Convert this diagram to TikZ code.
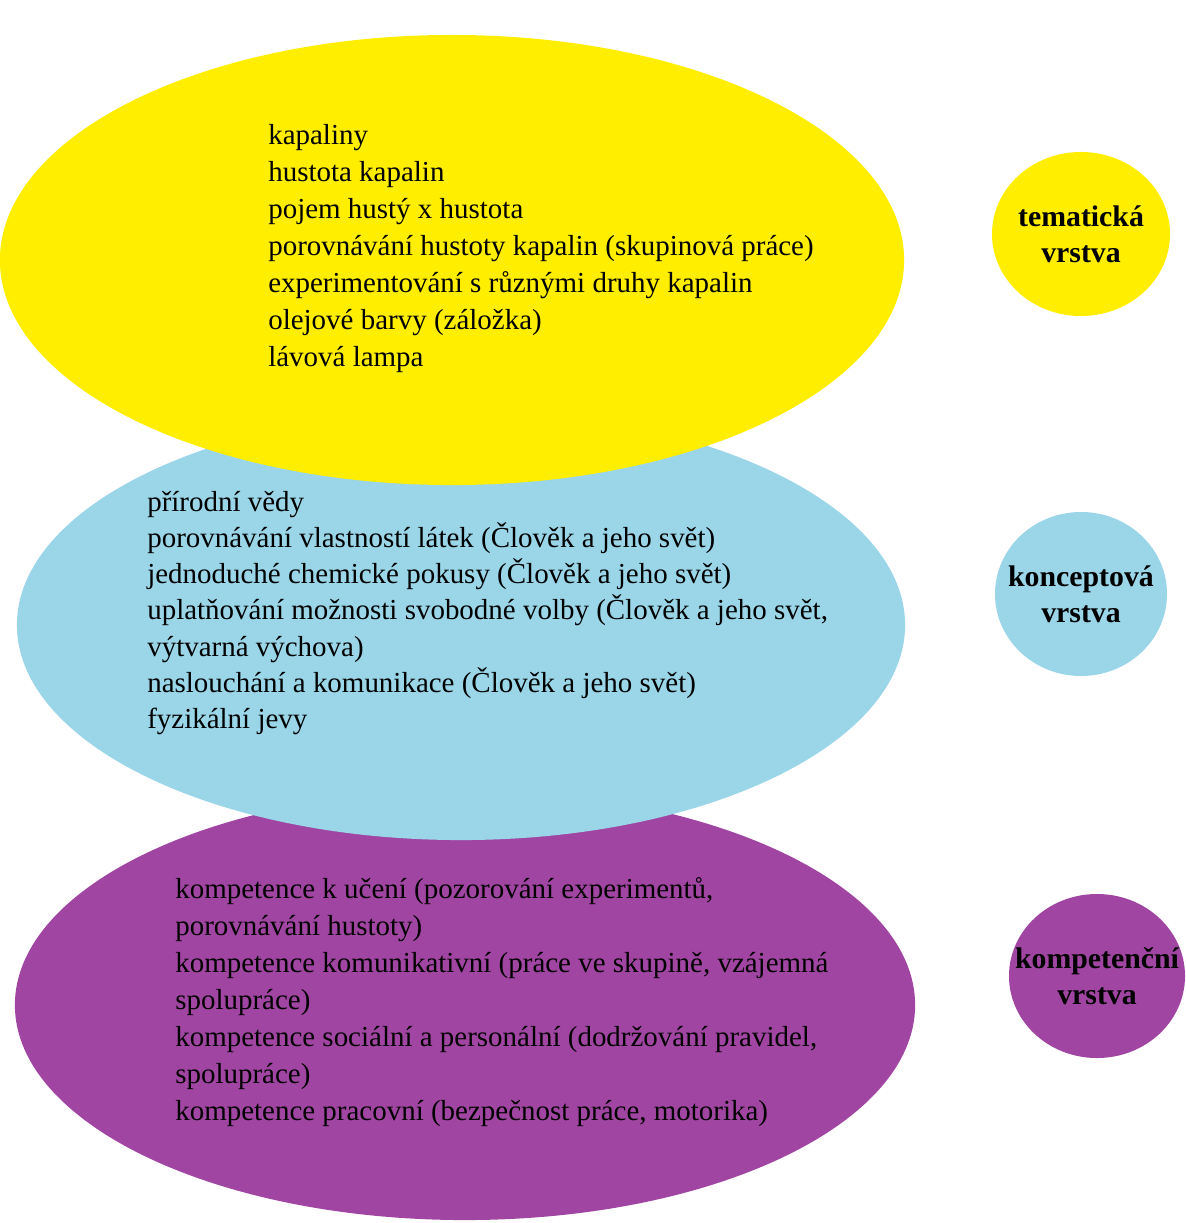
\documentclass[tikz,border=0pt]{standalone}
\usepackage{fontspec}
\setmainfont{Liberation Serif}
\usetikzlibrary{shapes.geometric}
\definecolor{tyellow}{RGB}{255,238,0}
\definecolor{cblue}{RGB}{154,214,232}
\definecolor{kpurple}{RGB}{160,70,162}
\begin{document}
\begin{tikzpicture}[x=0.025cm,y=-0.025cm,
    font=\fontsize{20.6}{26.3}\selectfont]
  \useasboundingbox (0,0) rectangle (1185,1223);
  % big layers, drawn bottom up
  \begin{scope}[shape=ellipse]
    \tikzstyle{every node}=[inner sep=0pt]
    \node[fill=kpurple,minimum width=22.5cm,minimum height=10.75cm] (K) at (465,1005) {};
    \node[fill=cblue,minimum width=22.2cm,minimum height=10.75cm] (C) at (461,625) {};
    \node[fill=tyellow,minimum width=22.6cm,minimum height=11.25cm] (T) at (452,260) {};
  \end{scope}
  % small labels
  \begin{scope}[shape=ellipse]
    \tikzstyle{every node}=[inner sep=0pt,minimum height=4.1cm]
    \node[fill=tyellow,minimum width=4.45cm] (t) at (1081,234) {};
    \node[fill=cblue,minimum width=4.3cm] (c) at (1081,594) {};
    \node[fill=kpurple,minimum width=4.4cm] (k) at (1097,976) {};
  \end{scope}
  \begin{scope}
    \tikzstyle{every node}=[inner sep=0pt,align=center,font=\fontsize{21.2}{25.6}\selectfont\bfseries]
    \node (tl) at (t.center) {tematická\\vrstva};
    \node (cl) at (c.center) {konceptová\\vrstva};
    \node (kl) at (k.center) {kompetenční\\vrstva};
  \end{scope}
  % texts
  \begin{scope}
    \tikzstyle{every node}=[anchor=north west,align=left,inner sep=0pt]
    \node (Tt) at (268,124) {kapaliny\\
      hustota kapalin\\
      pojem hustý x hustota\\
      porovnávání hustoty kapalin (skupinová práce)\\
      experimentování s různými druhy kapalin\\
      olejové barvy (záložka)\\
      lávová lampa};
    \node[font=\fontsize{20.6}{25.7}\selectfont] (Ct) at (147,491) {přírodní vědy\\
      porovnávání vlastností látek (Člověk a jeho svět)\\
      jednoduché chemické pokusy (Člověk a jeho svět)\\
      uplatňování možnosti svobodné volby (Člověk a jeho svět,\\
      výtvarná výchova)\\
      naslouchání a komunikace (Člověk a jeho svět)\\
      fyzikální jevy};
    \node (Kt) at (175,877) {kompetence k učení (pozorování experimentů,\\
      porovnávání hustoty)\\
      kompetence komunikativní (práce ve skupině, vzájemná\\
      spolupráce)\\
      kompetence sociální a personální (dodržování pravidel,\\
      spolupráce)\\
      kompetence pracovní (bezpečnost práce, motorika)};
  \end{scope}
\end{tikzpicture}
\end{document}
